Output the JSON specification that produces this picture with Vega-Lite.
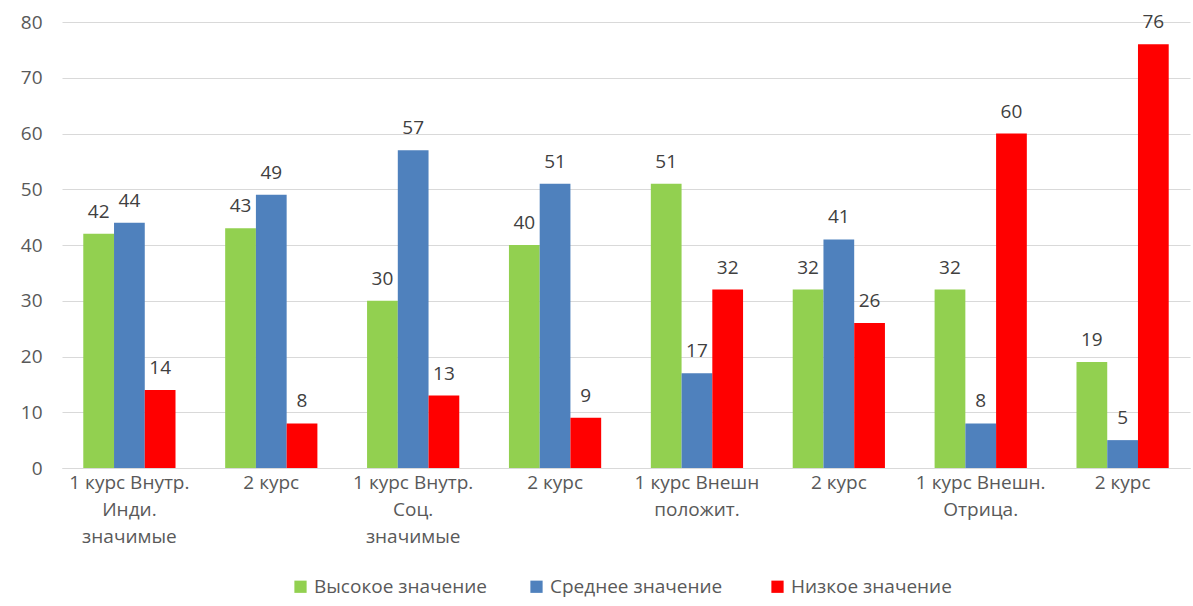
{
  "$schema": "https://vega.github.io/schema/vega-lite/v6.json",
  "width": 1128,
  "height": 446,
  "autosize": {"type": "none"},
  "padding": {"left": 62, "top": 22, "right": 3, "bottom": 138},
  "background": "white",
  "config": {
    "font": "Open Sans",
    "view": {"stroke": null},
    "axis": {"labelFont": "Open Sans", "labelColor": "#595959", "labelFontSize": 19}
  },
  "data": {
    "values": [
      {"cat": "1", "series": "Высокое значение", "value": 42},
      {"cat": "1", "series": "Среднее  значение", "value": 44},
      {"cat": "1", "series": "Низкое значение", "value": 14},
      {"cat": "2", "series": "Высокое значение", "value": 43},
      {"cat": "2", "series": "Среднее  значение", "value": 49},
      {"cat": "2", "series": "Низкое значение", "value": 8},
      {"cat": "3", "series": "Высокое значение", "value": 30},
      {"cat": "3", "series": "Среднее  значение", "value": 57},
      {"cat": "3", "series": "Низкое значение", "value": 13},
      {"cat": "4", "series": "Высокое значение", "value": 40},
      {"cat": "4", "series": "Среднее  значение", "value": 51},
      {"cat": "4", "series": "Низкое значение", "value": 9},
      {"cat": "5", "series": "Высокое значение", "value": 51},
      {"cat": "5", "series": "Среднее  значение", "value": 17},
      {"cat": "5", "series": "Низкое значение", "value": 32},
      {"cat": "6", "series": "Высокое значение", "value": 32},
      {"cat": "6", "series": "Среднее  значение", "value": 41},
      {"cat": "6", "series": "Низкое значение", "value": 26},
      {"cat": "7", "series": "Высокое значение", "value": 32},
      {"cat": "7", "series": "Среднее  значение", "value": 8},
      {"cat": "7", "series": "Низкое значение", "value": 60},
      {"cat": "8", "series": "Высокое значение", "value": 19},
      {"cat": "8", "series": "Среднее  значение", "value": 5},
      {"cat": "8", "series": "Низкое значение", "value": 76}
    ]
  },
  "encoding": {
    "x": {
      "field": "cat",
      "type": "nominal",
      "sort": null,
      "title": null,
      "scale": {"paddingInner": 0.35, "paddingOuter": 0.15},
      "axis": {
        "labelAngle": 0,
        "ticks": false,
        "domainColor": "#d9d9d9",
        "labelPadding": 5,
        "labelLineHeight": 27,
        "labelBaseline": "top",
        "labelExpr": "[['1 курс Внутр.','Инди.','значимые'],['2 курс'],['1 курс Внутр.','Соц.','значимые'],['2 курс'],['1 курс Внешн','положит.'],['2 курс'],['1 курс Внешн.','Отрица.'],['2 курс']][toNumber(datum.value)-1]"
      }
    },
    "xOffset": {"field": "series", "type": "nominal", "sort": ["Высокое значение", "Среднее  значение", "Низкое значение"]},
    "y": {
      "field": "value",
      "type": "quantitative",
      "title": null,
      "scale": {"domain": [0, 80], "nice": false},
      "axis": {
        "values": [0, 10, 20, 30, 40, 50, 60, 70, 80],
        "labelOverlap": false,
        "domain": false,
        "ticks": false,
        "labelPadding": 20,
        "gridColor": "#d9d9d9",
        "gridWidth": 1
      }
    }
  },
  "layer": [
    {
      "mark": {"type": "bar"},
      "encoding": {
        "color": {
          "field": "series",
          "type": "nominal",
          "scale": {
            "domain": ["Высокое значение", "Среднее  значение", "Низкое значение"],
            "range": ["#92D050", "#4F81BD", "#FF0000"]
          },
          "legend": {
            "orient": "none",
            "legendX": 229,
            "legendY": 555,
            "direction": "horizontal",
            "title": null,
            "symbolType": "square",
            "symbolSize": 150,
            "symbolStrokeWidth": 0,
            "labelFontSize": 19,
            "labelFont": "Open Sans",
            "labelColor": "#595959",
            "labelOffset": 4,
            "labelLimit": 400,
            "columnPadding": 40
          }
        }
      }
    },
    {
      "mark": {"type": "text", "baseline": "bottom", "dy": -12, "fontSize": 19, "font": "Open Sans", "color": "#404040"},
      "encoding": {"text": {"field": "value", "type": "quantitative"}}
    }
  ]
}
